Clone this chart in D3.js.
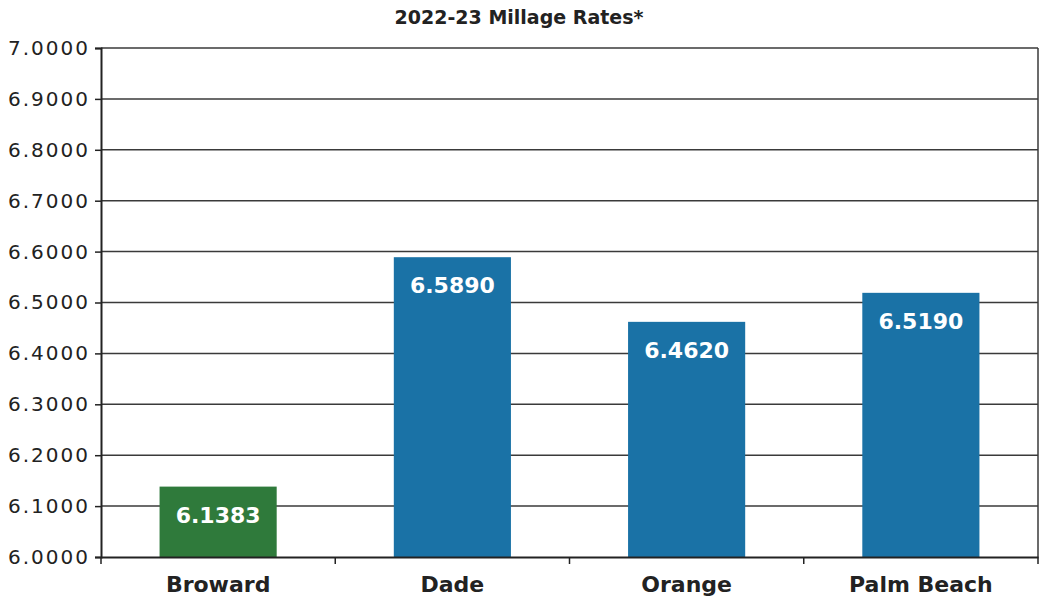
<!DOCTYPE html>
<html>
<head>
<meta charset="utf-8">
<script src="https://cdn.jsdelivr.net/npm/d3@7"></script>
<style>
  body { margin: 0; background: #fff; }
  svg { display: block; font-family: "DejaVu Sans", sans-serif; }
</style>
</head>
<body>
<div id="viz"></div>
<script>
const width = 1040;
const height = 602;
const margin = {top: 48, right: 2, bottom: 45, left: 101};

const counties = ['Broward', 'Dade', 'Orange', 'Palm Beach'];
const rates = [6.1383, 6.5890, 6.4620, 6.5190];
const barColors = ['#2f7a3b', '#1a72a6', '#1a72a6', '#1a72a6'];
const yTicks = [6.0, 6.1, 6.2, 6.3, 6.4, 6.5, 6.6, 6.7, 6.8, 6.9, 7.0];

const svg = d3.select('#viz')
    .append('svg')
        .attr('width', width)
        .attr('height', height);

const x = d3.scaleBand()
    .domain(counties)
    .range([margin.left, width - margin.right])
    .paddingInner(0.5)
    .paddingOuter(0.25);

const y = d3.scaleLinear()
    .domain([6, 7])
    .range([height - margin.bottom, margin.top]);

// gridlines
svg.append('g')
    .selectAll('line')
    .data(yTicks.slice(1))
    .join('line')
        .attr('x1', margin.left)
        .attr('x2', width - margin.right)
        .attr('y1', d => y(d))
        .attr('y2', d => y(d))
        .attr('stroke', '#3a3a3a')
        .attr('stroke-width', 1.5);

// right border
svg.append('line')
    .attr('x1', width - margin.right)
    .attr('x2', width - margin.right)
    .attr('y1', y(7))
    .attr('y2', y(6))
    .attr('stroke', '#3a3a3a')
    .attr('stroke-width', 1.5);

// bars
svg.append('g')
    .selectAll('rect')
    .data(rates)
    .join('rect')
        .attr('x', (d, i) => x(counties[i]))
        .attr('y', d => y(d))
        .attr('width', x.bandwidth())
        .attr('height', d => y(6) - y(d))
        .attr('fill', (d, i) => barColors[i]);

// value labels
svg.append('g')
    .selectAll('text')
    .data(rates)
    .join('text')
        .attr('x', (d, i) => x(counties[i]) + x.bandwidth() / 2)
        .attr('y', d => y(d) + 36)
        .attr('text-anchor', 'middle')
        .attr('fill', '#fff')
        .attr('font-weight', 'bold')
        .attr('font-size', 22)
        .text(d => d.toFixed(4));

// y axis
const yAxis = svg.append('g')
    .attr('transform', `translate(${margin.left}, 0)`)
    .call(d3.axisLeft(y).tickValues(yTicks).tickFormat(d3.format('.4f')).tickSize(6).tickPadding(5));
yAxis.select('.domain').attr('stroke', '#222').attr('stroke-width', 2);
yAxis.selectAll('.tick line').attr('stroke', '#222').attr('stroke-width', 1.5);
yAxis.selectAll('.tick text')
    .attr('font-family', '"DejaVu Sans", sans-serif')
    .attr('font-size', 20)
    .attr('letter-spacing', 2)
    .attr('fill', '#222');

// x axis
const xAxis = svg.append('g')
    .attr('transform', `translate(0, ${y(6)})`)
    .call(d3.axisBottom(x).tickSize(0).tickPadding(19));
xAxis.select('.domain').attr('stroke', '#222').attr('stroke-width', 2);
xAxis.selectAll('.tick text')
    .attr('font-family', '"DejaVu Sans", sans-serif')
    .attr('font-size', 22)
    .attr('font-weight', 'bold')
    .attr('fill', '#222');

// category separator ticks
const step = x.step();
svg.append('g')
    .selectAll('line')
    .data(counties)
    .join('line')
        .attr('x1', (d, i) => margin.left + step * i)
        .attr('x2', (d, i) => margin.left + step * i)
        .attr('y1', y(6))
        .attr('y2', y(6) + 7)
        .attr('stroke', '#222')
        .attr('stroke-width', 1.5);
svg.append('line')
    .attr('x1', width - margin.right)
    .attr('x2', width - margin.right)
    .attr('y1', y(6))
    .attr('y2', y(6) + 7)
    .attr('stroke', '#222')
    .attr('stroke-width', 1.5);

// title
svg.append('text')
    .attr('x', 519)
    .attr('y', 24)
    .attr('text-anchor', 'middle')
    .attr('font-weight', 'bold')
    .attr('font-size', 19)
    .attr('fill', '#222')
    .text('2022-23 Millage Rates*');
</script>
</body>
</html>
